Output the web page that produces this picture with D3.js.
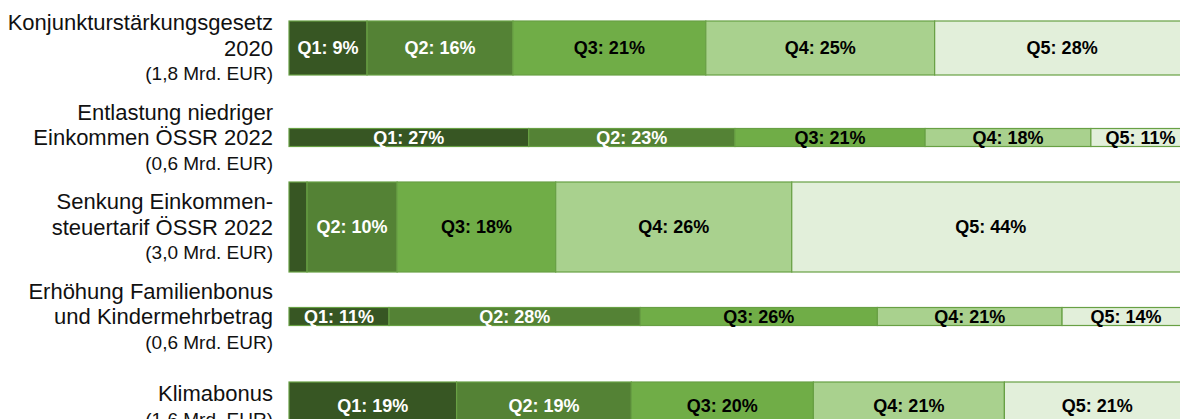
<!DOCTYPE html>
<html>
<head>
<meta charset="utf-8">
<script src="https://cdn.jsdelivr.net/npm/d3@7"></script>
<style>
  body { margin: 0; background: #fff; }
  text { font-family: "Liberation Sans", Arial, sans-serif; }
</style>
</head>
<body>
<svg id="chart"></svg>
<script>
// Data
const measures = [
  ["Konjunkturstärkungsgesetz", "2020"],
  ["Entlastung niedriger", "Einkommen ÖSSR 2022"],
  ["Senkung Einkommen-", "steuertarif ÖSSR 2022"],
  ["Erhöhung Familienbonus", "und Kindermehrbetrag"],
  ["Klimabonus"]
];
const amounts = [1.8, 0.6, 3.0, 0.6, 1.6]; // Mrd. EUR
const quintiles = ["Q1", "Q2", "Q3", "Q4", "Q5"];
const q1 = [8.66, 26.6, 2.0, 11.1, 18.6];
const q2 = [16.2, 22.9, 10.0, 27.9, 19.4];
const q3 = [21.4, 21.1, 17.6, 26.3, 20.2];
const q4 = [25.4, 18.4, 26.2, 20.5, 21.2];
const q5 = [28.3, 11.0, 44.2, 14.2, 20.6];

const colors = ["#375623", "#548235", "#70ad47", "#a9d18e", "#e2efda"];
const textColors = ["#fff", "#fff", "#000", "#000", "#000"];

// Chart Configuration
const width = 1180;
const height = 419;

const table = measures.map((m, i) => ({
  idx: i,
  Q1: q1[i], Q2: q2[i], Q3: q3[i], Q4: q4[i], Q5: q5[i]
}));
const series = d3.stack().keys(quintiles)(table);

const svg = d3.select("#chart").attr("width", width).attr("height", height);

// Scales
const xScale = d3.scaleLinear().domain([0, 100]).range([289, 1190]);
const yScale = d3.scalePoint().domain(d3.range(measures.length)).range([48, 406]);
const hScale = d3.scaleLinear().domain([0, 1]).range([0, 30]);

const deFormat = d3.formatLocale({ decimal: ",", thousands: ".", grouping: [3], currency: ["", " €"] }).format(".1f");

// Category labels
const labelGroup = svg.append("g").attr("text-anchor", "end");
measures.forEach((lines, i) => {
  const all = lines.map((t) => ({ t, sub: false }))
    .concat([{ t: `(${deFormat(amounts[i])} Mrd. EUR)`, sub: true }]);
  const n = all.length;
  all.forEach((l, j) => {
    labelGroup.append("text")
      .attr("x", 273)
      .attr("y", yScale(i) + (j - (n - 1) / 2) * 25.5)
      .attr("dy", "0.36em")
      .style("font-size", l.sub ? "19px" : "22px")
      .style("fill", "#111")
      .text(l.t);
  });
});

// Bars
const layer = svg.append("g")
  .selectAll("g")
  .data(series)
  .join("g")
  .attr("fill", (d, k) => colors[k]);

layer.selectAll("rect")
  .data((d) => d)
  .join("rect")
  .attr("x", (d) => xScale(d[0]))
  .attr("width", (d) => xScale(d[1]) - xScale(d[0]))
  .attr("y", (d) => yScale(d.data.idx) - hScale(amounts[d.data.idx]) / 2)
  .attr("height", (d) => hScale(amounts[d.data.idx]))
  .attr("stroke", "#68a044")
  .attr("stroke-width", 1.2);

// Segment labels
series.forEach((s, k) => {
  svg.append("g")
    .selectAll("text")
    .data(s.filter((d) => xScale(d[1]) - xScale(d[0]) > 55))
    .join("text")
    .attr("x", (d) => (xScale(d[0]) + xScale(d[1])) / 2)
    .attr("y", (d) => yScale(d.data.idx))
    .attr("dy", "0.36em")
    .attr("text-anchor", "middle")
    .style("font-size", "18px")
    .style("font-weight", "bold")
    .style("fill", textColors[k])
    .text((d) => `${s.key}: ${Math.round(d[1] - d[0])}%`);
});
</script>
</body>
</html>
